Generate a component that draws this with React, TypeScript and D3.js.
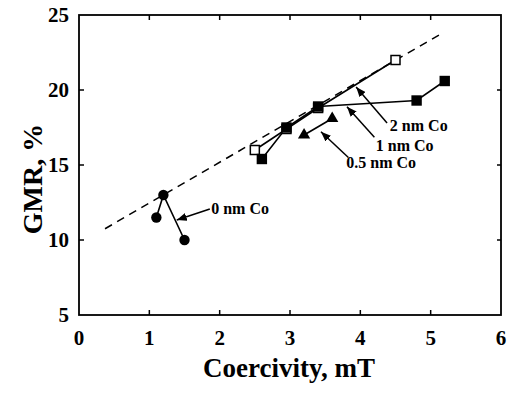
import React, { useEffect, useRef } from "react";
import * as d3 from "d3";

// series (coercivity mT, GMR %)
const coZero = [
  { x: 1.1, y: 11.5 },
  { x: 1.2, y: 13.0 },
  { x: 1.5, y: 10.0 },
];
const coHalf = [
  { x: 3.2, y: 17.0 },
  { x: 3.6, y: 18.1 },
];
const coOne = [
  { x: 2.6, y: 15.4 },
  { x: 2.95, y: 17.5 },
  { x: 3.4, y: 18.9 },
  { x: 4.8, y: 19.3 },
  { x: 5.2, y: 20.6 },
];
const coTwo = [
  { x: 2.5, y: 16.0 },
  { x: 2.95, y: 17.4 },
  { x: 3.4, y: 18.8 },
  { x: 4.5, y: 22.0 },
];
const fitLine = [
  { x: 0.37, y: 10.75 },
  { x: 5.15, y: 23.75 },
];
const xTicks = [0, 1, 2, 3, 4, 5, 6];
const yTicks = [5, 10, 15, 20, 25];
const notes = [
  { text: "2 nm Co", tx: 4.42, ty: 17.25, from: [4.38, 17.8], to: [3.94, 20.2] },
  { text: "1 nm Co", tx: 4.22, ty: 15.95, from: [4.2, 16.85], to: [3.81, 18.89] },
  { text: "0.5 nm Co", tx: 3.8, ty: 14.8, from: [3.83, 15.5], to: [3.44, 17.22] },
  { text: "0 nm Co", tx: 1.88, ty: 11.75, from: [1.86, 12.07], to: [1.39, 11.33] },
];

const App = () => {
  const svgRef = useRef(null);

  useEffect(() => {
    const width = 507;
    const height = 394;
    const margin = { top: 15, right: 6, bottom: 79, left: 79 };
    const font = "'Liberation Serif', 'Times New Roman', serif";

    const svg = d3.select(svgRef.current);
    svg.selectAll("*").remove();
    svg.attr("width", width).attr("height", height);

    const x = d3
      .scaleLinear()
      .domain([0, 6])
      .range([margin.left, width - margin.right]);
    const y = d3
      .scaleLinear()
      .domain([5, 25])
      .range([height - margin.bottom, margin.top]);

    //frame
    svg
      .append("rect")
      .attr("x", x(0))
      .attr("y", y(25))
      .attr("width", x(6) - x(0))
      .attr("height", y(5) - y(25))
      .attr("fill", "none")
      .attr("stroke", "#000")
      .attr("stroke-width", 1.8);

    //inward ticks on all four sides
    const inner = xTicks.slice(1, -1);
    const innerY = yTicks.slice(1, -1);
    const tickG = svg.append("g").attr("stroke", "#000").attr("stroke-width", 1.5);
    inner.forEach((v) => {
      tickG.append("line").attr("x1", x(v)).attr("x2", x(v)).attr("y1", y(5)).attr("y2", y(5) - 5);
      tickG.append("line").attr("x1", x(v)).attr("x2", x(v)).attr("y1", y(25)).attr("y2", y(25) + 5);
    });
    innerY.forEach((v) => {
      tickG.append("line").attr("x1", x(0)).attr("x2", x(0) + 5).attr("y1", y(v)).attr("y2", y(v));
      tickG.append("line").attr("x1", x(6)).attr("x2", x(6) - 4).attr("y1", y(v)).attr("y2", y(v));
    });

    //tick labels
    svg
      .append("g")
      .selectAll("text")
      .data(xTicks)
      .join("text")
      .attr("x", (d) => x(d))
      .attr("y", 345)
      .attr("text-anchor", "middle")
      .style("font", `bold 21px ${font}`)
      .text((d) => d);
    svg
      .append("g")
      .selectAll("text")
      .data(yTicks)
      .join("text")
      .attr("x", 69)
      .attr("y", (d) => y(d) + 7)
      .attr("text-anchor", "end")
      .style("font", `bold 21px ${font}`)
      .text((d) => d);

    //axis titles
    svg
      .append("text")
      .attr("x", 289)
      .attr("y", 377)
      .attr("text-anchor", "middle")
      .style("font", `bold 27px ${font}`)
      .text("Coercivity, mT");
    svg
      .append("text")
      .attr("transform", "translate(42,179) rotate(-90)")
      .attr("text-anchor", "middle")
      .style("font", `bold 28px ${font}`)
      .text("GMR, %");

    //dashed fit
    const line = d3
      .line()
      .x((d) => x(d.x))
      .y((d) => y(d.y));
    svg
      .append("path")
      .attr("d", line(fitLine))
      .attr("fill", "none")
      .attr("stroke", "#000")
      .attr("stroke-width", 1.5)
      .attr("stroke-dasharray", "8,6");

    //series lines
    [coTwo, coOne, coHalf, coZero].forEach((s) => {
      svg
        .append("path")
        .attr("d", line(s))
        .attr("fill", "none")
        .attr("stroke", "#000")
        .attr("stroke-width", 1.6);
    });

    //markers
    svg
      .append("g")
      .selectAll("rect")
      .data(coTwo)
      .join("rect")
      .attr("x", (d) => x(d.x) - 4.5)
      .attr("y", (d) => y(d.y) - 4.5)
      .attr("width", 9)
      .attr("height", 9)
      .attr("fill", "#fff")
      .attr("stroke", "#000")
      .attr("stroke-width", 1.5);
    svg
      .append("g")
      .selectAll("rect")
      .data(coOne)
      .join("rect")
      .attr("x", (d) => x(d.x) - 5.2)
      .attr("y", (d) => y(d.y) - 5.2)
      .attr("width", 10.4)
      .attr("height", 10.4)
      .attr("fill", "#000");
    const tri = d3.symbol().type(d3.symbolTriangle).size(65);
    svg
      .append("g")
      .selectAll("path")
      .data(coHalf)
      .join("path")
      .attr("transform", (d) => `translate(${x(d.x)},${y(d.y)})`)
      .attr("d", tri)
      .attr("fill", "#000");
    svg
      .append("g")
      .selectAll("circle")
      .data(coZero)
      .join("circle")
      .attr("cx", (d) => x(d.x))
      .attr("cy", (d) => y(d.y))
      .attr("r", 5.2)
      .attr("fill", "#000");

    //annotations with arrows
    const defs = svg.append("defs");
    defs
      .append("marker")
      .attr("id", "head")
      .attr("viewBox", "0 0 10 8")
      .attr("refX", 10)
      .attr("refY", 4)
      .attr("markerWidth", 10)
      .attr("markerHeight", 8)
      .attr("markerUnits", "userSpaceOnUse")
      .attr("orient", "auto")
      .append("path")
      .attr("d", "M0,0 L10,4 L0,8 Z")
      .attr("fill", "#000");
    notes.forEach((n) => {
      svg
        .append("line")
        .attr("x1", x(n.from[0]))
        .attr("y1", y(n.from[1]))
        .attr("x2", x(n.to[0]))
        .attr("y2", y(n.to[1]))
        .attr("stroke", "#000")
        .attr("stroke-width", 1.5)
        .attr("marker-end", "url(#head)");
      svg
        .append("text")
        .attr("x", x(n.tx))
        .attr("y", y(n.ty))
        .style("font", `bold 16px ${font}`)
        .text(n.text);
    });
  }, []);

  return (
    <svg
      ref={svgRef}
      style={{ position: "absolute", left: 0, top: 0, background: "#fff" }}
    />
  );
};

export default App;
